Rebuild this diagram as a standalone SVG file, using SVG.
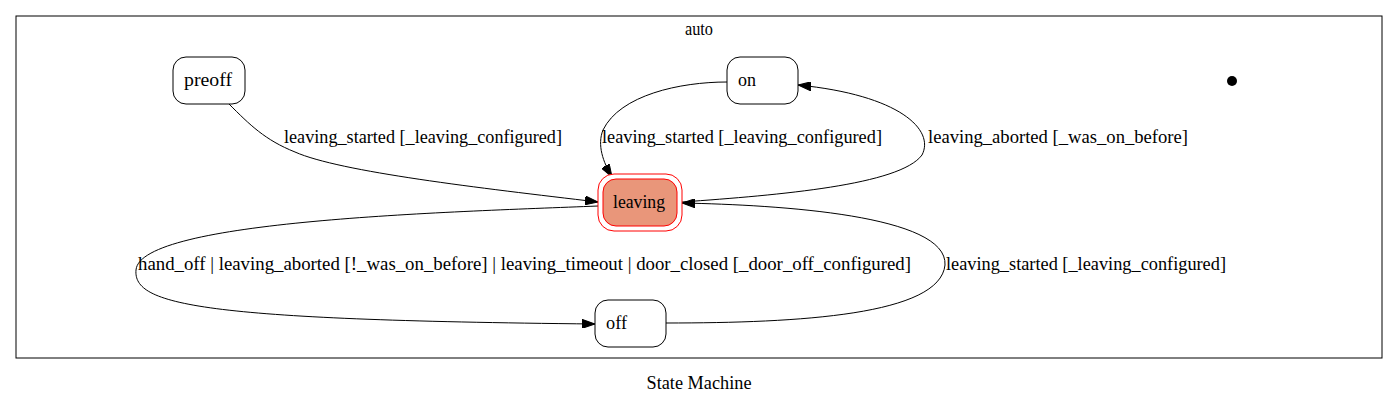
<svg xmlns="http://www.w3.org/2000/svg" width="1399" height="405" viewBox="0 0 1399 405">
<style>
text{font-size:18px;fill:#000}
.node{fill:#fff;stroke:#000;stroke-width:1}
.edge{fill:none;stroke:#000;stroke-width:1}
</style>
<defs>
<marker id="arr" markerWidth="13" markerHeight="9" refX="13" refY="4.5" orient="auto" markerUnits="userSpaceOnUse">
<polygon points="0,0 13,4.5 0,9" fill="#000" stroke="#000"/>
</marker>
</defs>
<g font-family="'Liberation Serif', 'Times New Roman', 'DejaVu Serif', serif">
<rect x="0" y="0" width="1399" height="405" fill="#fff"/>
<g id="cluster_auto">
<rect x="16" y="16" width="1366" height="342" fill="none" stroke="#000"/>
<text x="699" y="35" text-anchor="middle" textLength="28" lengthAdjust="spacingAndGlyphs">auto</text>
</g>
<g id="connectors">
<path class="edge" marker-end="url(#arr)" d="M229,104 C250,125 265,140 295,152 C340,172 480,188 598,202"/>
<text x="284" y="143" textLength="278" lengthAdjust="spacingAndGlyphs">leaving_started [_leaving_configured]</text>
<path class="edge" marker-end="url(#arr)" d="M727,82 C680,82 620,95 603,130 C597,145 603,162 612,177"/>
<text x="602" y="143" textLength="280" lengthAdjust="spacingAndGlyphs">leaving_started [_leaving_configured]</text>
<path class="edge" marker-end="url(#arr)" d="M682,202 C780,195 900,185 922,155 C935,130 900,95 798,85"/>
<text x="928" y="143" textLength="260" lengthAdjust="spacingAndGlyphs">leaving_aborted [_was_on_before]</text>
<path class="edge" marker-end="url(#arr)" d="M598,206 C450,212 140,220 136,270 C133,305 200,320 595,324"/>
<text x="138" y="270" textLength="773" lengthAdjust="spacingAndGlyphs">hand_off | leaving_aborted [!_was_on_before] | leaving_timeout | door_closed [_door_off_configured]</text>
<path class="edge" marker-end="url(#arr)" d="M666,323 C800,323 940,315 945,265 C948,215 780,205 682,203"/>
<text x="946" y="270" textLength="280" lengthAdjust="spacingAndGlyphs">leaving_started [_leaving_configured]</text>
</g>
<g id="node_initial">
<circle cx="1232" cy="81" r="5" fill="#000"/>
</g>
<g id="node_preoff">
<rect class="node" x="173" y="57" width="72" height="47" rx="13"/>
<text x="184" y="86" textLength="48" lengthAdjust="spacingAndGlyphs">preoff</text>
</g>
<g id="node_on">
<rect class="node" x="727" y="57" width="71" height="47" rx="13"/>
<text x="738" y="86" textLength="18" lengthAdjust="spacingAndGlyphs">on</text>
</g>
<g id="node_leaving">
<rect x="598" y="174" width="84" height="57" rx="16" fill="#fff" stroke="#f00"/>
<rect x="603" y="179" width="74" height="47" rx="13" fill="#e9967a" stroke="#f00"/>
<text x="613" y="208" textLength="52" lengthAdjust="spacingAndGlyphs">leaving</text>
</g>
<g id="node_off">
<rect class="node" x="595" y="300" width="71" height="47" rx="13"/>
<text x="606" y="329" textLength="21" lengthAdjust="spacingAndGlyphs">off</text>
</g>
<text x="699" y="389" text-anchor="middle" textLength="105" lengthAdjust="spacingAndGlyphs">State Machine</text>
</g>
</svg>
